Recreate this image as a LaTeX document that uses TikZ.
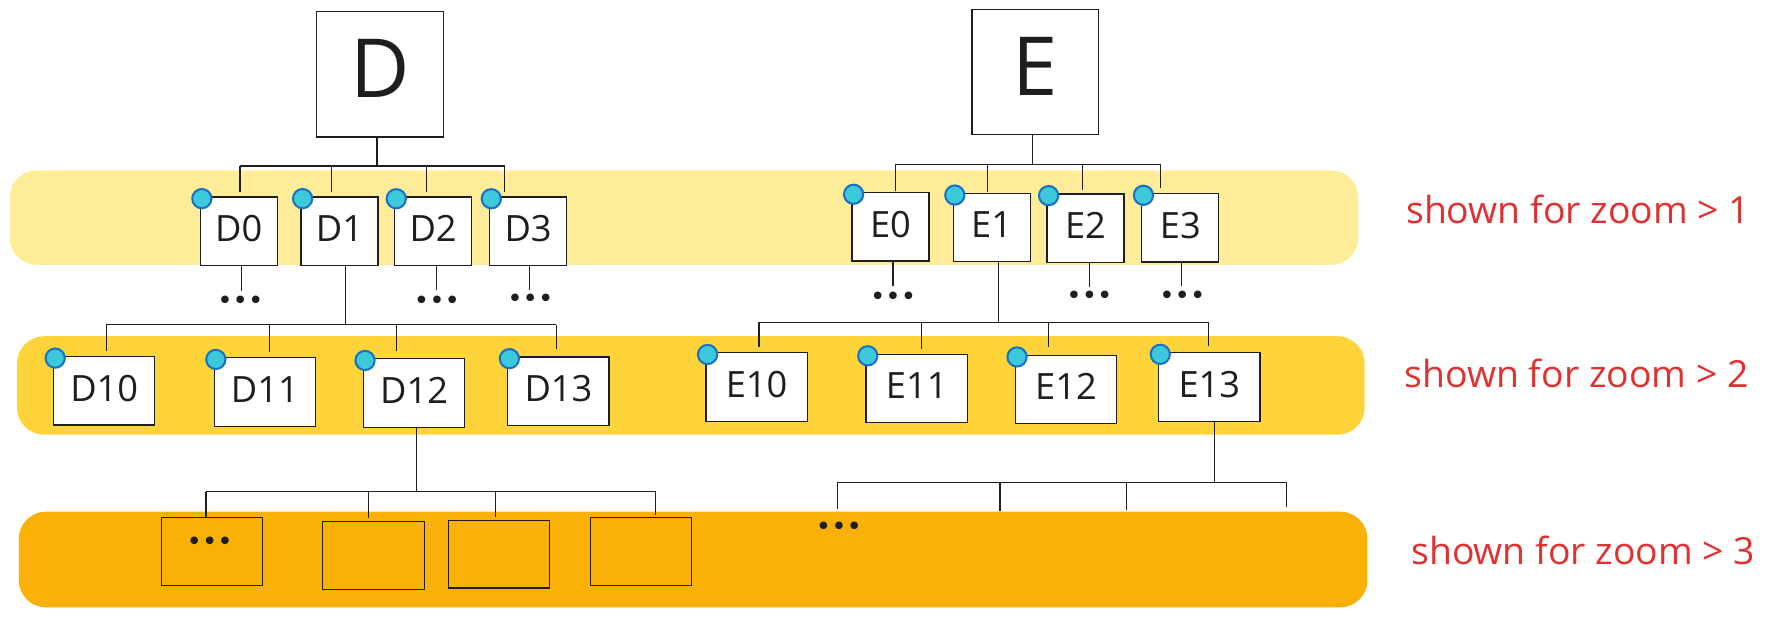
\documentclass[tikz,border=0pt]{standalone}
\usepackage{fontspec}
\setmainfont{Open Sans}
\newfontfamily\dotfont{DejaVu Sans}
\definecolor{bandA}{HTML}{FFEC99}
\definecolor{bandB}{HTML}{FFD43B}
\definecolor{bandC}{HTML}{FAB005}
\definecolor{ink}{HTML}{1E1E1E}
\definecolor{pinfill}{HTML}{3BC9DB}
\definecolor{pinline}{HTML}{1971C2}
\definecolor{notered}{HTML}{E03131}
\begin{document}
\begin{tikzpicture}[x=1pt,y=-1pt,
  box/.style={draw=ink, line width=1.1pt, inner sep=0pt, text=ink},
  topbox/.style={box, fill=white, minimum width=112, minimum height=110.7, font=\fontsize{72}{80}\selectfont, text depth=10pt},
  lvlone/.style={box, fill=white, minimum width=68, minimum height=60.3, font=\fontsize{32}{36}\selectfont, text depth=5pt},
  lvltwo/.style={box, fill=white, minimum width=89.5, minimum height=60.5, font=\fontsize{32}{38}\selectfont, text depth=5pt},
  leafbox/.style={box, minimum width=89.5, minimum height=60},
  badge/.style={circle, draw=pinline, fill=pinfill, line width=1.8pt, minimum size=17, inner sep=0pt},
  conn/.style={draw=ink, line width=1pt},
  ellip/.style={text=ink, font=\dotfont\fontsize{23}{26}\selectfont, inner sep=0pt, anchor=mid, yshift=-7},
  zoomnote/.style={text=notered, font=\fontsize{33}{38}\selectfont, anchor=base west, inner sep=0pt}]
\useasboundingbox (0,0) rectangle (1568,546.8);
% bands
\fill[bandA, rounded corners=24] (8.4,150.5) rectangle (1200,234);
\fill[bandB, rounded corners=24] (15,297) rectangle (1205.5,384);
\fill[bandC, rounded corners=24] (16.6,452) rectangle (1208,536.5);
% notes
\node[zoomnote] (n1) at (1242,197.2) {shown for zoom > 1};
\node[zoomnote] (n2) at (1240.6,342) {shown for zoom > 2};
\node[zoomnote] (n3) at (1246.5,498.9) {shown for zoom > 3};
% top boxes
\node[topbox] (D) at (335.5,65.65) {D};
\node[topbox] (E) at (914.7,63.6) {E};
% level 1
\node[lvlone] (D0) at (210.85,204.15) {D0};
\node[lvlone] (D1) at (299.85,204.15) {D1};
\node[lvlone] (D2) at (382.6,204.25) {D2};
\node[lvlone] (D3) at (466.55,204.25) {D3};
\node[lvlone] (E0) at (786.6,200.3) {E0};
\node[lvlone] (E1) at (876,201) {E1};
\node[lvlone] (E2) at (958.85,201.5) {E2};
\node[lvlone] (E3) at (1042.65,201.2) {E3};
% level 2
\node[lvltwo] (D10) at (92.05,345.15) {D10};
\node[lvltwo] (D11) at (233.95,346.3) {D11};
\node[lvltwo] (D12) at (365.75,347.2) {D12};
\node[lvltwo] (D13) at (493.3,345.6) {D13};
\node[lvltwo] (E10) at (668.35,341.9) {E10};
\node[lvltwo] (E11) at (809.85,343.1) {E11};
\node[lvltwo] (E12) at (941.7,344.1) {E12};
\node[lvltwo] (E13) at (1068.25,341.8) {E13};
% level 3
\node[leafbox] (L0) at (187.25,487.1) {};
\node[leafbox] (L1) at (329.95,490.95) {};
\node[leafbox] (L2) at (440.65,489.5) {};
\node[leafbox] (L3) at (566.25,487.1) {};
% badges
\foreach \c in {D0,D1,D2,D3,E0,E1,E2,E3,D10,D11,D12,D13,E10,E11,E12,E13}
  \node[badge] (\c-pin) at ([shift={(2,2)}]\c.north west) {};
% ellipses
\node[ellip] (D0d) at (212.3,263.5) {•••};
\node[ellip] (D2d) at (386,263.5) {•••};
\node[ellip] (D3d) at (468.5,262) {•••};
\node[ellip] (E0d) at (789,260.5) {•••};
\node[ellip] (E2d) at (962.4,259.6) {•••};
\node[ellip] (E3d) at (1044.5,259) {•••};
\node[ellip] (L0d) at (185.3,476.2) {•••};
\node[ellip] (E13d) at (741.1,463.8) {•••};
% bar levels
\coordinate (Dbar) at (0,146.6);
\coordinate (Ebar) at (0,145);
\coordinate (D1bar) at (0,286.9);
\coordinate (E1bar) at (0,284.5);
\coordinate (D12bar) at (0,434.5);
\coordinate (E13bar) at (0,426.3);
% brackets: D
\draw[conn] ([xshift=-2.5]D.south) coordinate (D-out) -- (D-out |- Dbar);
\foreach \c/\dx/\up in {D0/1.15/3.7, D1/-7.25/3.7, D2/-5.9/4, D3/-20.55/4}
  \draw[conn] ([xshift=\dx,yshift=\up]\c.north) coordinate (\c-in) -- (\c-in |- Dbar);
\draw[conn] (D0-in |- Dbar) -- (D3-in |- Dbar);
% E
\draw[conn] ([xshift=-2.9]E.south) coordinate (E-out) -- (E-out |- Ebar);
\foreach \c/\dx/\up in {E0/4.1/1, E1/-4/1, E2/-2.85/2.9, E3/-17.65/4.4}
  \draw[conn] ([xshift=\dx,yshift=\up]\c.north) coordinate (\c-in) -- (\c-in |- Ebar);
\draw[conn] (E0-in |- Ebar) -- (E3-in |- Ebar);
% D1
\draw[conn] ([xshift=5.65]D1.south) coordinate (D1-out) -- (D1-out |- D1bar);
\foreach \c/\dx/\up in {D10/1.75/4.4, D11/3.75/4.4, D12/-15.75/6.1, D13/-1.8/6.4}
  \draw[conn] ([xshift=\dx,yshift=\up]\c.north) coordinate (\c-in) -- (\c-in |- D1bar);
\draw[conn] (D10-in |- D1bar) -- (D13-in |- D1bar);
% E1
\draw[conn] ([xshift=5.8]E1.south) coordinate (E1-out) -- (E1-out |- E1bar);
\foreach \c/\dx/\up in {E10/2.15/4.4, E11/4.15/3.8, E12/-15.8/6.5, E13/-0.85/5.3}
  \draw[conn] ([xshift=\dx,yshift=\up]\c.north) coordinate (\c-in) -- (\c-in |- E1bar);
\draw[conn] (E10-in |- E1bar) -- (E13-in |- E1bar);
% D12
\draw[conn] ([xshift=2.25]D12.south) coordinate (D12-out) -- (D12-out |- D12bar);
\foreach \c/\dx/\up in {L0/-5.25/0, L1/-4.35/2.9, L2/-3.15/2.4, L3/13.15/1.4}
  \draw[conn] ([xshift=\dx,yshift=\up]\c.north) coordinate (\c-in) -- (\c-in |- D12bar);
\draw[conn] (L0-in |- D12bar) -- (L3-in |- D12bar);
% E13
\coordinate (F0) at (739.5,449.8);
\coordinate (F1) at (883.4,451.8);
\coordinate (F2) at (995.3,450.6);
\coordinate (F3) at (1136.8,448.3);
\draw[conn] ([xshift=4.75]E13.south) coordinate (E13-out) -- (E13-out |- E13bar);
\foreach \c in {F0,F1,F2,F3}
  \draw[conn] (\c |- E13bar) -- (\c);
\draw[conn] (F0 |- E13bar) -- (F3 |- E13bar);
% leaf stubs
\foreach \c/\dx/\dn in {D0/2.15/22, D2/3.2/21.5, D3/1.45/21, E0/2.2/22, E2/3.35/21.5, E3/1.15/20.5}
  \draw[conn] ([xshift=\dx]\c.south) -- ([xshift=\dx,yshift=-\dn]\c.south);
\end{tikzpicture}
\end{document}
